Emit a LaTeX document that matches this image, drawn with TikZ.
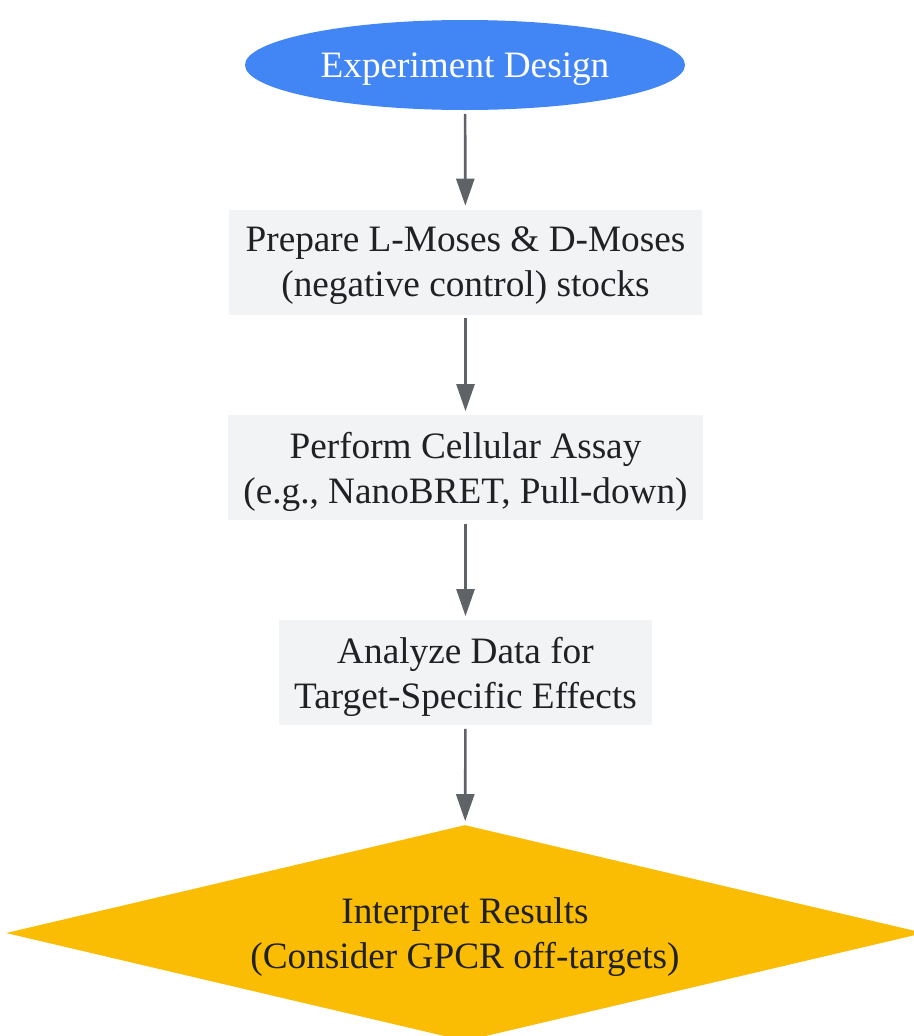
\documentclass[tikz,border=0pt]{standalone}
\usepackage{fontspec}
\setmainfont{Liberation Serif}
\usepackage{tikz}
\usetikzlibrary{shapes.geometric,arrows.meta}

\definecolor{startblue}{HTML}{4285F4}
\definecolor{stepgray}{HTML}{F1F3F4}
\definecolor{decideyellow}{HTML}{FBBC04}
\definecolor{linegray}{HTML}{5F6368}
\definecolor{textdark}{HTML}{202124}

\begin{document}
\begin{tikzpicture}
  %% FLOW CHART
  \useasboundingbox (0,0) rectangle (18.28,-20.72);

  \tikzstyle{every node}=[font=\fontsize{21.2}{25.5}\selectfont, align=center, inner sep=0pt, text depth=-1pt]
  \tikzstyle{every edge}=[draw=linegray, line width=1.5pt, -{Triangle[length=0.54cm,width=0.36cm]}, shorten <=2pt, shorten >=2pt]
  \tikzstyle{startnode}=[ellipse, fill=startblue, text=white, minimum width=8.8cm, minimum height=1.8cm]
  \tikzstyle{stepnode}=[rectangle, fill=stepgray, text=textdark, minimum height=2.1cm]
  \tikzstyle{decidenode}=[diamond, shape aspect=4.25, fill=decideyellow, text=textdark, minimum width=18.36cm, minimum height=4.32cm]

  % start
  \node[startnode] (design) at (9.3,-1.3) {Experiment Design};

  % steps
  \node[stepnode, minimum width=9.46cm] (prepare) at (9.31,-5.24)
  {Prepare L-Moses \& D-Moses\\(negative control) stocks};
  \node[stepnode, minimum width=9.5cm] (assay) at (9.31,-9.35)
  {Perform Cellular Assay\\(e.g., NanoBRET, Pull-down)};
  \node[stepnode, minimum width=7.46cm] (analyze) at (9.31,-13.45)
  {Analyze Data for\\Target-Specific Effects};

  % decision
  \node[decidenode] (interpret) at (9.3,-18.66)
  {Interpret Results\\(Consider GPCR off-targets)};

  \path (design) edge (prepare)
  (prepare) edge (assay)
  (assay) edge (analyze)
  (analyze) edge (interpret);
\end{tikzpicture}
\end{document}
